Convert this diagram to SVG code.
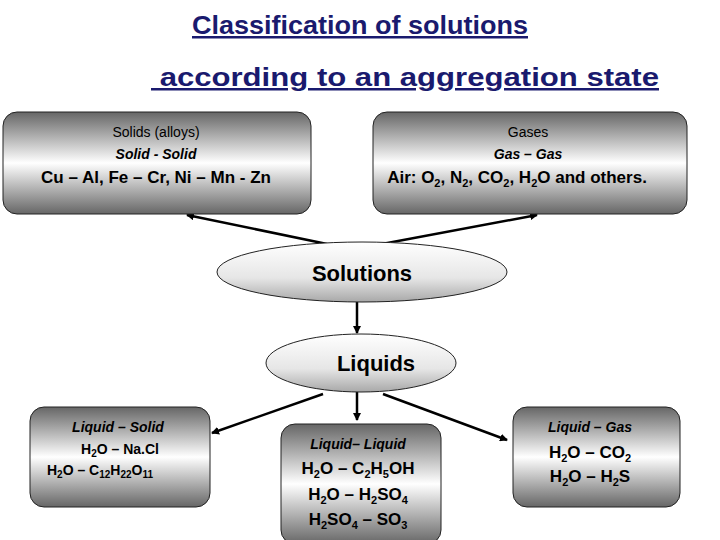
<svg xmlns="http://www.w3.org/2000/svg" width="720" height="540" viewBox="0 0 720 540">
<style>
text{font-family:"Liberation Sans",Arial,sans-serif;text-anchor:middle;fill:#000}
.t{fill:#1a1a6e;font-size:25px;font-weight:bold;text-decoration:underline}
.box{fill:url(#g);stroke:#222;stroke-width:1}
.ell{fill:url(#e);stroke:#222;stroke-width:1}
.c{stroke:#000;stroke-width:2.5;fill:none;marker-end:url(#a)}
.s{font-size:14px}.m{font-size:17px;font-weight:bold}.i{font-style:italic;font-weight:bold}
</style>
<defs>
<linearGradient id="g" x1="0" y1="0" x2="0" y2="1"><stop offset="0" stop-color="#666"/><stop offset="0.5" stop-color="#ffffff"/><stop offset="1" stop-color="#666"/></linearGradient>
<linearGradient id="e" x1="0" y1="0" x2="0" y2="1"><stop offset="0" stop-color="#ffffff"/><stop offset="0.6" stop-color="#e6e6e6"/><stop offset="1" stop-color="#a8a8a8"/></linearGradient>
<marker id="a" markerWidth="8" markerHeight="8" refX="7" refY="4" orient="auto" markerUnits="userSpaceOnUse"><path d="M0,0L8,4L0,8z" fill="#000"/></marker>
</defs>
<text class="t" x="360" y="34" textLength="336" lengthAdjust="spacingAndGlyphs">Classification of solutions</text>
<text class="t" x="405" y="86" textLength="508" lengthAdjust="spacingAndGlyphs" xml:space="preserve"> according to an aggregation state</text>
<g id="connectors">
<line class="c" x1="327" y1="244" x2="187" y2="215"/>
<line class="c" x1="382" y1="244" x2="537" y2="215"/>
<line class="c" x1="357" y1="302" x2="357" y2="333"/>
<line class="c" x1="323" y1="394" x2="212" y2="433"/>
<line class="c" x1="357" y1="392" x2="357" y2="420"/>
<line class="c" x1="383" y1="394" x2="507" y2="440"/>
</g>
<g id="solids"><rect class="box" x="3" y="112" width="308" height="102" rx="14"/>
<text class="s" x="156" y="137">Solids (alloys)</text><text class="s i" x="156" y="159">Solid - Solid</text>
<text class="m" x="156" y="183">Cu – Al,  Fe – Cr,  Ni – Mn - Zn</text></g>
<g id="gases"><rect class="box" x="373" y="112" width="314" height="102" rx="14"/>
<text class="s" x="528" y="137">Gases</text><text class="s i" x="528" y="159">Gas  – Gas</text>
<text class="m" x="517" y="183">Air: O<tspan font-size="11" dy="4">2</tspan><tspan dy="-4">, N</tspan><tspan font-size="11" dy="4">2</tspan><tspan dy="-4">, CO</tspan><tspan font-size="11" dy="4">2</tspan><tspan dy="-4">, H</tspan><tspan font-size="11" dy="4">2</tspan><tspan dy="-4">O and others.</tspan></text></g>
<g id="solutions"><ellipse class="ell" cx="362" cy="272" rx="145" ry="30"/><text x="362" y="281" font-size="22" font-weight="bold">Solutions</text></g>
<g id="liquids"><ellipse class="ell" cx="361" cy="363" rx="95" ry="29"/><text x="376" y="371" font-size="22" font-weight="bold">Liquids</text></g>
<g id="liquid-solid"><rect class="box" x="30" y="407" width="180" height="100" rx="14"/>
<text class="s i" x="118" y="432">Liquid – Solid</text>
<text class="s" x="120" y="454" font-weight="bold">H<tspan font-size="10" dy="3">2</tspan><tspan dy="-3">O – Na.Cl</tspan></text>
<text class="s" x="100" y="475" font-weight="bold">H<tspan font-size="10" dy="3">2</tspan><tspan dy="-3">O – C</tspan><tspan font-size="10" dy="3">12</tspan><tspan dy="-3">H</tspan><tspan font-size="10" dy="3">22</tspan><tspan dy="-3">O</tspan><tspan font-size="10" dy="3">11</tspan></text></g>
<g id="liquid-liquid"><rect class="box" x="281" y="424" width="160" height="120" rx="14"/>
<text class="s i" x="358" y="449">Liquid– Liquid</text>
<text class="m" x="358" y="474">H<tspan font-size="11" dy="4">2</tspan><tspan dy="-4">O – C</tspan><tspan font-size="11" dy="4">2</tspan><tspan dy="-4">H</tspan><tspan font-size="11" dy="4">5</tspan><tspan dy="-4">OH</tspan></text>
<text class="m" x="358" y="500">H<tspan font-size="11" dy="4">2</tspan><tspan dy="-4">O – H</tspan><tspan font-size="11" dy="4">2</tspan><tspan dy="-4">SO</tspan><tspan font-size="11" dy="4">4</tspan></text>
<text class="m" x="358" y="525">H<tspan font-size="11" dy="4">2</tspan><tspan dy="-4">SO</tspan><tspan font-size="11" dy="4">4</tspan><tspan dy="-4"> – SO</tspan><tspan font-size="11" dy="4">3</tspan></text></g>
<g id="liquid-gas"><rect class="box" x="513" y="407" width="167" height="100" rx="14"/>
<text class="s i" x="590" y="432">Liquid – Gas</text>
<text class="m" x="590" y="458">H<tspan font-size="11" dy="4">2</tspan><tspan dy="-4">O – CO</tspan><tspan font-size="11" dy="4">2</tspan></text>
<text class="m" x="590" y="482">H<tspan font-size="11" dy="4">2</tspan><tspan dy="-4">O – H</tspan><tspan font-size="11" dy="4">2</tspan><tspan dy="-4">S</tspan></text></g>
</svg>
